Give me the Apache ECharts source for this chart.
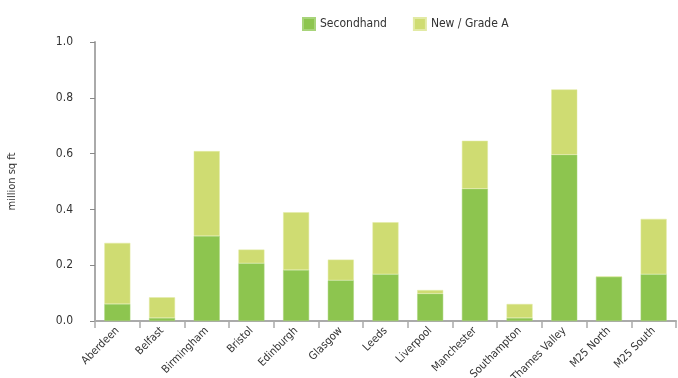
<!DOCTYPE html>
<html>
<head>
<meta charset="utf-8">
<script src="https://cdn.jsdelivr.net/npm/echarts@6/dist/echarts.min.js"></script>
<style>html,body{margin:0;padding:0;background:#fff}#c{width:678px;height:378px}</style>
</head>
<body>
<div id="c"></div>
<script>
const categories = ['Aberdeen','Belfast','Birmingham','Bristol','Edinburgh','Glasgow','Leeds','Liverpool','Manchester','Southampton','Thames Valley','M25 North','M25 South'];
const secondhand = [0.061,0.011,0.305,0.207,0.183,0.146,0.168,0.098,0.474,0.011,0.596,0.159,0.168];
const newGradeA = [0.219,0.074,0.304,0.049,0.207,0.074,0.186,0.013,0.172,0.050,0.234,0,0.198];
const yTicks = [0,0.2,0.4,0.6,0.8,1.0];

const font = '"DejaVu Sans Condensed", "Liberation Sans Narrow", sans-serif';
const chart = echarts.init(document.getElementById('c'));
chart.setOption({
  animation: false,
  textStyle: {fontFamily: font},
  legend: {
    top: 12, left: 297,
    itemWidth: 12, itemHeight: 12, itemGap: 26,
    icon: 'rect',
    textStyle: {fontFamily: font, fontSize: 12, color: '#333'},
    data: ['Secondhand', 'New / Grade A']
  },
  grid: {left: 95, right: 2, top: 42, bottom: 57, containLabel: false, outerBoundsMode: 'none'},
  xAxis: {
    type: 'category',
    data: categories,
    axisLine: {lineStyle: {color: '#aaa', width: 2}},
    axisTick: {show: true, length: 7, lineStyle: {color: '#aaa', width: 1.5}},
    axisLabel: {rotate: 45, fontSize: 11, color: '#333', margin: 8, interval: 0, fontFamily: font}
  },
  yAxis: {
    type: 'value',
    min: yTicks[0], max: yTicks[yTicks.length-1], interval: 0.2,
    name: 'million sq ft',
    nameLocation: 'middle',
    nameRotate: 90,
    nameGap: 77,
    nameTextStyle: {fontSize: 11, color: '#333', fontFamily: font},
    splitLine: {show: false},
    axisLine: {show: true, lineStyle: {color: '#aaa', width: 2}},
    axisTick: {show: true, length: 5, lineStyle: {color: '#888', width: 1}},
    axisLabel: {formatter: v => v.toFixed(1), fontSize: 12, color: '#333', margin: 22, fontFamily: font}
  },
  series: [
    {name: 'Secondhand', type: 'bar', stack: 't', data: secondhand, barWidth: 26,
     itemStyle: {color: '#8dc54f', borderColor: '#a8d47a', borderWidth: 0.5}},
    {name: 'New / Grade A', type: 'bar', stack: 't', data: newGradeA, barWidth: 26,
     itemStyle: {color: '#cfdc72', borderColor: '#e2eaa5', borderWidth: 0.5}}
  ]
});
</script>
</body>
</html>
